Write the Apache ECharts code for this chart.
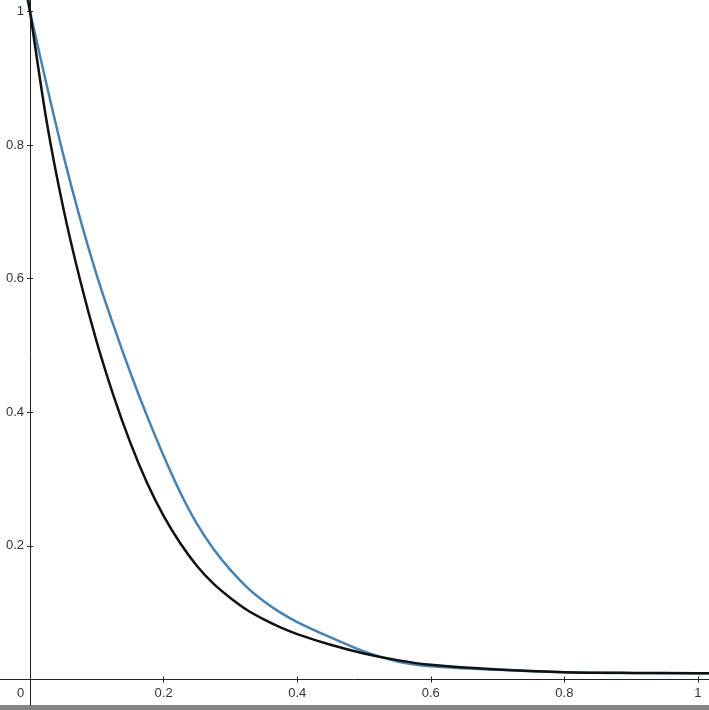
<!DOCTYPE html>
<html>
<head>
<meta charset="utf-8">
<script src="https://cdn.jsdelivr.net/npm/echarts@6/dist/echarts.min.js"></script>
<style>
html,body{margin:0;padding:0;background:#fff;}
#chart{width:709px;height:710px;}
</style>
</head>
<body>
<div id="chart"></div>
<script>
// Tick values
const xTickValues = [0, 0.2, 0.4, 0.6, 0.8, 1];
const yTickValues = [0.2, 0.4, 0.6, 0.8, 1];

// Blue curve
const blueX = [-0.004, 0, 0.025, 0.05, 0.075, 0.1, 0.125, 0.15, 0.175, 0.2, 0.225, 0.25, 0.275, 0.3, 0.325, 0.35, 0.375, 0.4, 0.45, 0.5, 0.55, 0.6, 0.7, 0.8, 0.9, 1.0, 1.02];
const blueY = [1.018, 1.0, 0.89, 0.785, 0.69, 0.605, 0.53, 0.46, 0.395, 0.335, 0.28, 0.233, 0.195, 0.164, 0.138, 0.117, 0.1, 0.086, 0.063, 0.042, 0.027, 0.0198, 0.0145, 0.011, 0.0097, 0.0093, 0.0093];

// Black curve
const blackX = [-0.004, 0, 0.025, 0.05, 0.075, 0.1, 0.125, 0.15, 0.175, 0.2, 0.225, 0.25, 0.275, 0.3, 0.325, 0.35, 0.375, 0.4, 0.45, 0.5, 0.55, 0.6, 0.7, 0.8, 0.9, 1.0, 1.02];
const blackY = [1.027, 1.0, 0.835, 0.705, 0.598, 0.505, 0.425, 0.355, 0.295, 0.245, 0.204, 0.17, 0.143, 0.122, 0.104, 0.09, 0.078, 0.068, 0.052, 0.039, 0.029, 0.022, 0.015, 0.011, 0.0098, 0.0094, 0.0093];

const zip = (xs, ys) => xs.map((x, i) => [x, ys[i]]);

const chart = echarts.init(document.getElementById('chart'), null, {renderer: 'canvas'});

const font = {fontFamily: 'Liberation Sans, Arial, sans-serif', fontSize: 13, color: '#333'};
const axisColor = '#222';

const xBase = {
  type: 'value', min: -0.0449, max: 1.0165,
  position: 'bottom', offset: -25.5,
  splitLine: {show: false}
};
const yBase = {
  type: 'value', min: -0.0382, max: 1.0172,
  position: 'left', offset: -30,
  splitLine: {show: false}
};

chart.setOption({
  animation: false,
  backgroundColor: '#fff',
  grid: {left: 0, right: 0, top: 0, bottom: 5, containLabel: false, outerBoundsMode: 'none'},
  xAxis: [
    Object.assign({}, xBase, {
      axisLine: {show: true, onZero: false, lineStyle: {color: axisColor, width: 1}},
      axisTick: {show: true, length: 3, customValues: xTickValues.filter(v => v !== 0), lineStyle: {color: axisColor}},
      axisLabel: Object.assign({}, font, {
        show: true, margin: 7,
        customValues: xTickValues,
        formatter: v => v === 0 ? '{z|0}' : String(v),
        rich: {z: Object.assign({}, font, {padding: [0, 19, 0, 0]})}
      })
    }),
    Object.assign({}, xBase, {
      axisLine: {show: false, onZero: false},
      axisTick: {show: true, inside: true, length: 3, customValues: xTickValues.filter(v => v !== 0), lineStyle: {color: axisColor}},
      axisLabel: {show: false}
    })
  ],
  yAxis: [
    Object.assign({}, yBase, {
      axisLine: {show: true, onZero: false, lineStyle: {color: axisColor, width: 1}},
      axisTick: {show: true, length: 3, customValues: yTickValues, lineStyle: {color: axisColor}},
      axisLabel: Object.assign({}, font, {show: true, margin: 6, customValues: yTickValues, formatter: v => String(v)})
    }),
    Object.assign({}, yBase, {
      axisLine: {show: false, onZero: false},
      axisTick: {show: true, inside: true, length: 3, customValues: yTickValues, lineStyle: {color: axisColor}},
      axisLabel: {show: false}
    })
  ],
  graphic: [{
    type: 'rect', left: 0, bottom: 0,
    shape: {width: 709, height: 5},
    style: {fill: '#858585'}
  }],
  series: [
    {
      type: 'line', name: 'blue', xAxisIndex: 0, yAxisIndex: 0,
      data: zip(blueX, blueY), showSymbol: false, symbol: 'none',
      smooth: 0.3,
      lineStyle: {color: '#4682b4', width: 2.5}
    },
    {
      type: 'line', name: 'black', xAxisIndex: 0, yAxisIndex: 0,
      data: zip(blackX, blackY), showSymbol: false, symbol: 'none',
      smooth: 0.3,
      lineStyle: {color: '#111111', width: 2.5}
    }
  ]
});
</script>
</body>
</html>
